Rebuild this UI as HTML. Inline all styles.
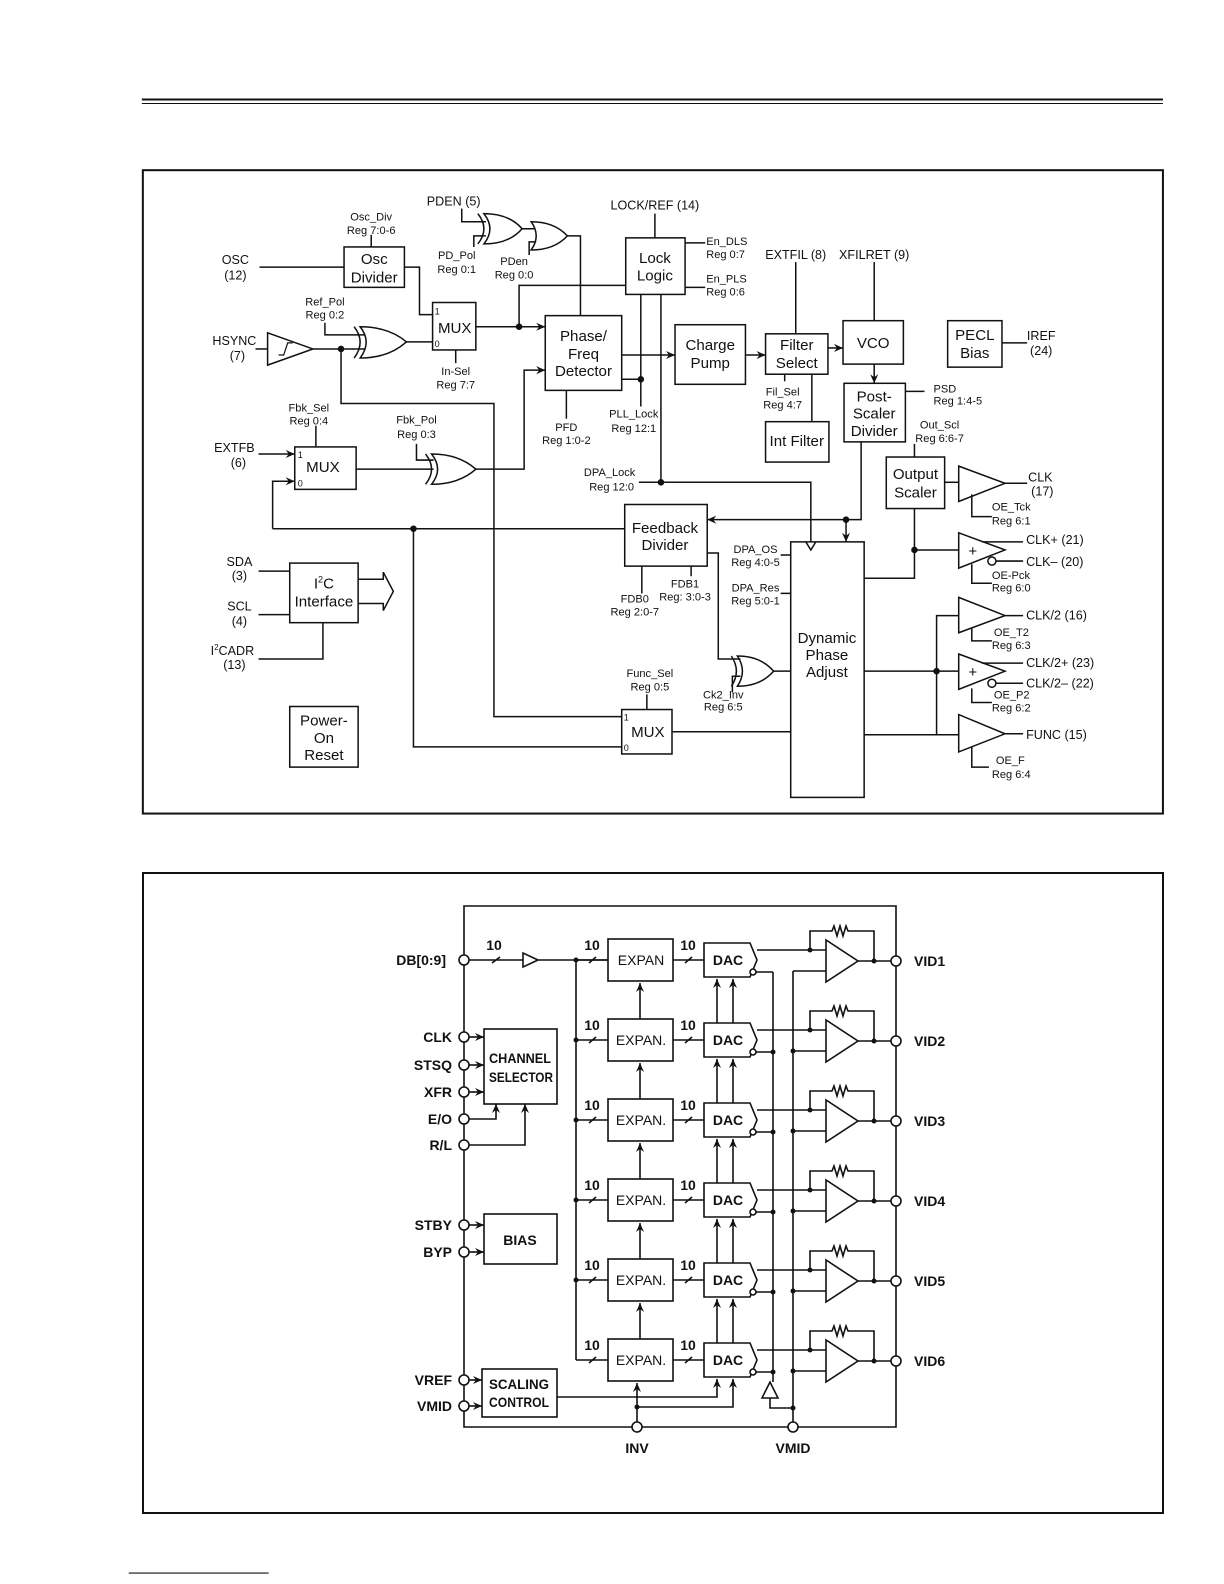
<!DOCTYPE html>
<html><head><meta charset="utf-8"><style>
html,body{margin:0;padding:0;background:#fff}
svg{display:block}
text{font-family:"Liberation Sans",sans-serif;fill:#111}
.s{font-size:11px}
.m{font-size:12.5px}
.b{font-size:15px}
.d{font-size:14px;font-weight:bold}
</style></head><body>
<svg width="1224" height="1584" viewBox="0 0 1224 1584" xmlns="http://www.w3.org/2000/svg">
<defs>
<marker id="a" markerWidth="10" markerHeight="10" refX="9" refY="5" orient="auto" markerUnits="userSpaceOnUse"><path d="M0,1 L9,5 L0,9 L3,5 Z" fill="#111"/></marker>
</defs>
<g transform="matrix(1.006,0,0,1.010,1,-0.5)" stroke="#111" stroke-width="1.5" fill="none">
<line x1="140" y1="99" x2="1155" y2="99" stroke-width="2"/>
<line x1="140" y1="103" x2="1155" y2="103" stroke-width="1"/>
<line x1="127" y1="1558" x2="266" y2="1558" stroke-width="1.2"/>
<rect x="141" y="169" width="1014" height="637" stroke-width="2"/>
<line x1="257" y1="265" x2="341" y2="265"/>
<rect x="341" y="245" width="60" height="40"/>
<line x1="368" y1="233" x2="368" y2="245"/>
<polyline points="401,265 416,265 416,312 429,312"/>
<rect x="429" y="300" width="43" height="47"/>
<line x1="452" y1="347" x2="452" y2="360"/>
<line x1="253" y1="346" x2="265" y2="346"/>
<path d="M265,330 L265,362 L310,346 Z"/>
<path d="M276,352 L281,352 L285,340 L290,340" stroke-width="1.2"/>
<line x1="310" y1="346" x2="362" y2="346"/>
<circle cx="338" cy="346" r="2.5" fill="#111"/>
<polyline points="338,346 338,400 490,400 490,710 617,710"/>
<polyline points="322,320 322,332 362,332"/>
<path d="M357,324 Q369,339 357,355 Q385,355 403,339 Q385,324 357,324 Z"/>
<path d="M351,324 Q363,339 351,355"/>
<polyline points="403,339 429,339"/>
<line x1="472" y1="324" x2="541" y2="324" marker-end="url(#a)"/>
<circle cx="515" cy="324" r="2.5" fill="#111"/>
<polyline points="515,324 515,283 621,283"/>
<rect x="541" y="313" width="76" height="74"/>
<line x1="562" y1="387" x2="562" y2="415"/>
<polyline points="458,207 458,220 482,220"/>
<polyline points="470,245 470,234 482,234"/>
<path d="M480,212 Q492,227 480,242 Q505,242 518,227 Q505,212 480,212 Z"/>
<path d="M474,212 Q486,227 474,242"/>
<polyline points="518,227 530,227"/>
<polyline points="525,253 525,240 532,240"/>
<path d="M527,220 Q537,234 527,248 Q550,248 563,234 Q550,220 527,220 Z"/>
<polyline points="563,234 576,234 576,313"/>
<line x1="650" y1="212" x2="650" y2="236"/>
<rect x="621" y="236" width="59" height="56"/>
<line x1="680" y1="241" x2="700" y2="241"/>
<line x1="680" y1="285" x2="700" y2="285"/>
<line x1="636" y1="292" x2="636" y2="403"/>
<polyline points="617,376 636,376"/>
<circle cx="636" cy="376" r="2.5" fill="#111"/>
<polyline points="656,292 656,478 805,478 805,537"/>
<circle cx="656" cy="478" r="2.5" fill="#111"/>
<line x1="634" y1="478" x2="656" y2="478"/>
<path d="M800,537 L805,545 L810,537"/>
<line x1="617" y1="352" x2="670" y2="352" marker-end="url(#a)"/>
<rect x="670" y="322" width="70" height="59"/>
<line x1="740" y1="352" x2="760" y2="352" marker-end="url(#a)"/>
<rect x="760" y="331" width="62" height="40"/>
<line x1="790" y1="260" x2="790" y2="331"/>
<line x1="868" y1="260" x2="868" y2="318"/>
<line x1="822" y1="345" x2="837" y2="345" marker-end="url(#a)"/>
<rect x="837" y="318" width="60" height="43"/>
<line x1="868" y1="361" x2="868" y2="380" marker-end="url(#a)"/>
<rect x="838" y="380" width="61" height="58"/>
<line x1="899" y1="388" x2="918" y2="388"/>
<line x1="779" y1="371" x2="779" y2="378"/>
<line x1="806" y1="371" x2="806" y2="418"/>
<rect x="760" y="418" width="63" height="40"/>
<rect x="941" y="318" width="54" height="46"/>
<line x1="995" y1="340" x2="1020" y2="340"/>
<polyline points="855,438 855,515 702,515" marker-end="url(#a)"/>
<circle cx="840" cy="515" r="2.5" fill="#111"/>
<line x1="840" y1="515" x2="840" y2="537" marker-end="url(#a)"/>
<line x1="908" y1="440" x2="908" y2="453"/>
<rect x="880" y="453" width="58" height="51"/>
<line x1="938" y1="478" x2="952" y2="478"/>
<path d="M952,462 L952,497 L998,479 Z"/>
<line x1="998" y1="479" x2="1020" y2="479"/>
<polyline points="965,490 965,512 985,512"/>
<polyline points="908,504 908,573 858,573"/>
<circle cx="908" cy="545" r="2.5" fill="#111"/>
<line x1="908" y1="545" x2="952" y2="545"/>
<path d="M952,528 L952,563 L998,545 Z"/>
<line x1="975" y1="537" x2="1016" y2="537"/>
<circle cx="985" cy="556" r="4"/>
<line x1="989" y1="556" x2="1016" y2="556"/>
<polyline points="965,559 965,578 985,578"/>
<rect x="785" y="537" width="73" height="253"/>
<line x1="775" y1="550" x2="785" y2="550"/>
<line x1="775" y1="588" x2="785" y2="588"/>
<polyline points="858,665 930,665"/>
<polyline points="952,610 930,610 930,728"/>
<circle cx="930" cy="665" r="2.5" fill="#111"/>
<path d="M952,592 L952,627 L998,610 Z"/>
<line x1="998" y1="610" x2="1016" y2="610"/>
<polyline points="965,622 965,635 985,635"/>
<line x1="930" y1="665" x2="952" y2="665"/>
<path d="M952,648 L952,683 L998,665 Z"/>
<line x1="975" y1="657" x2="1016" y2="657"/>
<circle cx="985" cy="677" r="4"/>
<line x1="989" y1="677" x2="1016" y2="677"/>
<polyline points="965,682 965,696 985,696"/>
<line x1="858" y1="728" x2="952" y2="728"/>
<path d="M952,708 L952,745 L998,727 Z"/>
<line x1="998" y1="727" x2="1016" y2="727"/>
<polyline points="965,740 965,760 982,760"/>
<line x1="256" y1="450" x2="292" y2="450" marker-end="url(#a)"/>
<rect x="292" y="443" width="61" height="42"/>
<line x1="313" y1="422" x2="313" y2="443"/>
<polyline points="270,524 270,477 292,477" marker-end="url(#a)"/>
<line x1="270" y1="524" x2="620" y2="524"/>
<circle cx="410" cy="524" r="2.5" fill="#111"/>
<polyline points="410,524 410,740 617,740"/>
<line x1="353" y1="465" x2="430" y2="465"/>
<polyline points="413,440 413,456 430,456"/>
<path d="M428,450 Q440,465 428,480 Q455,480 472,465 Q455,450 428,450 Z"/>
<path d="M422,450 Q434,465 422,480"/>
<polyline points="472,465 520,465 520,367 541,367" marker-end="url(#a)"/>
<rect x="620" y="500" width="82" height="61"/>
<line x1="637" y1="561" x2="637" y2="588"/>
<line x1="686" y1="561" x2="686" y2="571"/>
<polyline points="702,548 713,548 713,653 735,653"/>
<polyline points="727,686 727,670 735,670"/>
<path d="M732,650 Q742,665 732,680 Q755,680 768,665 Q755,650 732,650 Z"/>
<path d="M726,650 Q736,665 726,680"/>
<line x1="768" y1="665" x2="785" y2="665"/>
<rect x="617" y="703" width="50" height="44"/>
<line x1="642" y1="688" x2="642" y2="703"/>
<line x1="667" y1="725" x2="785" y2="725"/>
<line x1="256" y1="566" x2="287" y2="566"/>
<line x1="256" y1="609" x2="287" y2="609"/>
<rect x="287" y="558" width="68" height="59"/>
<polyline points="256,653 320,653 320,617"/>
<path d="M355,574 L380,574 L380,567 L390,586 L380,605 L380,598 L355,598"/>
<rect x="287" y="700" width="68" height="60"/>
</g>
<g transform="matrix(1.006,0,0,1.010,1,-0.5)">
<text class="m" x="233" y="262" text-anchor="middle">OSC</text>
<text class="m" x="233" y="277" text-anchor="middle">(12)</text>
<text class="s" x="368" y="219" text-anchor="middle">Osc_Div</text>
<text class="s" x="368" y="232" text-anchor="middle">Reg 7:0-6</text>
<text class="b" x="371" y="262" text-anchor="middle">Osc</text>
<text class="b" x="371" y="280" text-anchor="middle">Divider</text>
<text class="s" x="322" y="303" text-anchor="middle">Ref_Pol</text>
<text class="s" x="322" y="316" text-anchor="middle">Reg 0:2</text>
<text class="m" x="232" y="342" text-anchor="middle">HSYNC</text>
<text class="m" x="235" y="357" text-anchor="middle">(7)</text>
<text style="font-size:9px" x="431" y="312">1</text>
<text style="font-size:9px" x="431" y="344">0</text>
<text class="b" x="451" y="330" text-anchor="middle">MUX</text>
<text class="s" x="452" y="372" text-anchor="middle">In-Sel</text>
<text class="s" x="452" y="385" text-anchor="middle">Reg 7:7</text>
<text class="m" x="450" y="204" text-anchor="middle">PDEN (5)</text>
<text class="s" x="453" y="257" text-anchor="middle">PD_Pol</text>
<text class="s" x="453" y="271" text-anchor="middle">Reg 0:1</text>
<text class="s" x="510" y="263" text-anchor="middle">PDen</text>
<text class="s" x="510" y="276" text-anchor="middle">Reg 0:0</text>
<text class="m" x="650" y="208" text-anchor="middle">LOCK/REF (14)</text>
<text class="b" x="650" y="261" text-anchor="middle">Lock</text>
<text class="b" x="650" y="278" text-anchor="middle">Logic</text>
<text class="s" x="701" y="243">En_DLS</text>
<text class="s" x="701" y="256">Reg 0:7</text>
<text class="s" x="701" y="280">En_PLS</text>
<text class="s" x="701" y="293">Reg 0:6</text>
<text class="b" x="579" y="338" text-anchor="middle">Phase/</text>
<text class="b" x="579" y="356" text-anchor="middle">Freq</text>
<text class="b" x="579" y="373" text-anchor="middle">Detector</text>
<text class="s" x="562" y="427" text-anchor="middle">PFD</text>
<text class="s" x="562" y="440" text-anchor="middle">Reg 1:0-2</text>
<text class="s" x="629" y="414" text-anchor="middle">PLL_Lock</text>
<text class="s" x="629" y="428" text-anchor="middle">Reg 12:1</text>
<text class="s" x="605" y="472" text-anchor="middle">DPA_Lock</text>
<text class="s" x="607" y="486" text-anchor="middle">Reg 12:0</text>
<text class="b" x="705" y="347" text-anchor="middle">Charge</text>
<text class="b" x="705" y="365" text-anchor="middle">Pump</text>
<text class="m" x="790" y="257" text-anchor="middle">EXTFIL (8)</text>
<text class="m" x="868" y="257" text-anchor="middle">XFILRET (9)</text>
<text class="b" x="791" y="347" text-anchor="middle">Filter</text>
<text class="b" x="791" y="365" text-anchor="middle">Select</text>
<text class="b" x="867" y="345" text-anchor="middle">VCO</text>
<text class="s" x="777" y="392" text-anchor="middle">Fil_Sel</text>
<text class="s" x="777" y="405" text-anchor="middle">Reg 4:7</text>
<text class="b" x="791" y="442" text-anchor="middle">Int Filter</text>
<text class="b" x="968" y="337" text-anchor="middle">PECL</text>
<text class="b" x="968" y="355" text-anchor="middle">Bias</text>
<text class="m" x="1034" y="337" text-anchor="middle">IREF</text>
<text class="m" x="1034" y="352" text-anchor="middle">(24)</text>
<text class="b" x="868" y="398" text-anchor="middle">Post-</text>
<text class="b" x="868" y="415" text-anchor="middle">Scaler</text>
<text class="b" x="868" y="432" text-anchor="middle">Divider</text>
<text class="s" x="927" y="389">PSD</text>
<text class="s" x="927" y="401">Reg 1:4-5</text>
<text class="s" x="933" y="425" text-anchor="middle">Out_Scl</text>
<text class="s" x="933" y="438" text-anchor="middle">Reg 6:6-7</text>
<text class="b" x="909" y="475" text-anchor="middle">Output</text>
<text class="b" x="909" y="493" text-anchor="middle">Scaler</text>
<text class="m" x="1021" y="477">CLK</text>
<text class="m" x="1024" y="491">(17)</text>
<text class="s" x="985" y="506">OE_Tck</text>
<text class="s" x="985" y="520">Reg 6:1</text>
<text class="b" x="966" y="551" text-anchor="middle">+</text>
<text class="m" x="1019" y="539">CLK+ (21)</text>
<text class="m" x="1019" y="561">CLK– (20)</text>
<text class="s" x="985" y="574">OE-Pck</text>
<text class="s" x="985" y="586">Reg 6:0</text>
<text class="m" x="1019" y="614">CLK/2 (16)</text>
<text class="s" x="987" y="630">OE_T2</text>
<text class="s" x="985" y="643">Reg 6:3</text>
<text class="b" x="966" y="671" text-anchor="middle">+</text>
<text class="m" x="1019" y="661">CLK/2+ (23)</text>
<text class="m" x="1019" y="681">CLK/2– (22)</text>
<text class="s" x="987" y="692">OE_P2</text>
<text class="s" x="985" y="705">Reg 6:2</text>
<text class="m" x="1019" y="732">FUNC (15)</text>
<text class="s" x="989" y="757">OE_F</text>
<text class="s" x="985" y="771">Reg 6:4</text>
<text class="s" x="750" y="548" text-anchor="middle">DPA_OS</text>
<text class="s" x="750" y="561" text-anchor="middle">Reg 4:0-5</text>
<text class="s" x="750" y="586" text-anchor="middle">DPA_Res</text>
<text class="s" x="750" y="599" text-anchor="middle">Reg 5:0-1</text>
<text class="b" x="821" y="637" text-anchor="middle">Dynamic</text>
<text class="b" x="821" y="654" text-anchor="middle">Phase</text>
<text class="b" x="821" y="671" text-anchor="middle">Adjust</text>
<text class="m" x="232" y="448" text-anchor="middle">EXTFB</text>
<text class="m" x="236" y="463" text-anchor="middle">(6)</text>
<text class="s" x="306" y="408" text-anchor="middle">Fbk_Sel</text>
<text class="s" x="306" y="421" text-anchor="middle">Reg 0:4</text>
<text style="font-size:9px" x="295" y="454">1</text>
<text style="font-size:9px" x="295" y="482">0</text>
<text class="b" x="320" y="468" text-anchor="middle">MUX</text>
<text class="s" x="413" y="420" text-anchor="middle">Fbk_Pol</text>
<text class="s" x="413" y="434" text-anchor="middle">Reg 0:3</text>
<text class="b" x="660" y="528" text-anchor="middle">Feedback</text>
<text class="b" x="660" y="545" text-anchor="middle">Divider</text>
<text class="s" x="630" y="597" text-anchor="middle">FDB0</text>
<text class="s" x="630" y="610" text-anchor="middle">Reg 2:0-7</text>
<text class="s" x="680" y="582" text-anchor="middle">FDB1</text>
<text class="s" x="680" y="595" text-anchor="middle">Reg: 3:0-3</text>
<text class="s" x="718" y="692" text-anchor="middle">Ck2_Inv</text>
<text class="s" x="718" y="704" text-anchor="middle">Reg 6:5</text>
<text class="s" x="645" y="671" text-anchor="middle">Func_Sel</text>
<text class="s" x="645" y="684" text-anchor="middle">Reg 0:5</text>
<text style="font-size:9px" x="619" y="714">1</text>
<text style="font-size:9px" x="619" y="744">0</text>
<text class="b" x="643" y="730" text-anchor="middle">MUX</text>
<text class="m" x="237" y="561" text-anchor="middle">SDA</text>
<text class="m" x="237" y="575" text-anchor="middle">(3)</text>
<text class="m" x="237" y="605" text-anchor="middle">SCL</text>
<text class="m" x="237" y="620" text-anchor="middle">(4)</text>
<text class="m" x="230" y="649" text-anchor="middle">I<tspan style="font-size:8px" dy="-5">2</tspan><tspan dy="5">CADR</tspan></text>
<text class="m" x="232" y="663" text-anchor="middle">(13)</text>
<text class="b" x="321" y="583" text-anchor="middle">I<tspan style="font-size:9px" dy="-6">2</tspan><tspan dy="6">C</tspan></text>
<text class="b" x="321" y="601" text-anchor="middle">Interface</text>
<text class="b" x="321" y="719" text-anchor="middle">Power-</text>
<text class="b" x="321" y="736" text-anchor="middle">On</text>
<text class="b" x="321" y="753" text-anchor="middle">Reset</text>
</g>

<g stroke="#111" stroke-width="1.6" fill="none">
<rect x="143" y="873" width="1020" height="640" stroke-width="2"/>
<polyline points="464,955 464,906 896,906 896,1427 464,1427 464,1411"/>
<line x1="464" y1="965" x2="464" y2="1032"/>
<line x1="464" y1="1042" x2="464" y2="1060"/>
<line x1="464" y1="1070" x2="464" y2="1087"/>
<line x1="464" y1="1097" x2="464" y2="1114"/>
<line x1="464" y1="1124" x2="464" y2="1140"/>
<line x1="464" y1="1150" x2="464" y2="1220"/>
<line x1="464" y1="1230" x2="464" y2="1247"/>
<line x1="464" y1="1257" x2="464" y2="1375"/>
<line x1="464" y1="1385" x2="464" y2="1401"/>
<line x1="469" y1="960" x2="523" y2="960"/>
<line x1="492" y1="963" x2="500" y2="957"/>
<path d="M523,953 L523,967 L538,960 Z"/>
<line x1="538" y1="960" x2="608" y2="960"/>
<line x1="576" y1="960" x2="576" y2="1360"/>
</g>
<g stroke="#111" stroke-width="1.6" fill="none">
<g transform="translate(0,0)"><line x1="576" y1="960" x2="608" y2="960"/><line x1="589" y1="963" x2="596" y2="957"/><rect x="608" y="939" width="65" height="42"/><line x1="673" y1="960" x2="704" y2="960"/><line x1="685" y1="963" x2="692" y2="957"/><path d="M704,943 L750,943 L757,960 L750,977 L704,977 Z"/><circle cx="753" cy="972" r="3" fill="#fff"/><line x1="757" y1="950" x2="826" y2="950"/><line x1="756" y1="972" x2="773" y2="972"/><line x1="793" y1="971" x2="826" y2="971"/><path d="M826,940 L826,982 L858,961 Z"/><line x1="858" y1="961" x2="891" y2="961"/><polyline points="810,950 810,931 832,931 834,926 837,936 840,926 843,936 846,926 848,931 874,931 874,961"/><circle cx="896" cy="961" r="5" fill="#fff"/></g>
<g transform="translate(0,80)"><line x1="576" y1="960" x2="608" y2="960"/><line x1="589" y1="963" x2="596" y2="957"/><rect x="608" y="939" width="65" height="42"/><line x1="673" y1="960" x2="704" y2="960"/><line x1="685" y1="963" x2="692" y2="957"/><path d="M704,943 L750,943 L757,960 L750,977 L704,977 Z"/><circle cx="753" cy="972" r="3" fill="#fff"/><line x1="757" y1="950" x2="826" y2="950"/><line x1="756" y1="972" x2="773" y2="972"/><line x1="793" y1="971" x2="826" y2="971"/><path d="M826,940 L826,982 L858,961 Z"/><line x1="858" y1="961" x2="891" y2="961"/><polyline points="810,950 810,931 832,931 834,926 837,936 840,926 843,936 846,926 848,931 874,931 874,961"/><circle cx="896" cy="961" r="5" fill="#fff"/></g>
<g transform="translate(0,160)"><line x1="576" y1="960" x2="608" y2="960"/><line x1="589" y1="963" x2="596" y2="957"/><rect x="608" y="939" width="65" height="42"/><line x1="673" y1="960" x2="704" y2="960"/><line x1="685" y1="963" x2="692" y2="957"/><path d="M704,943 L750,943 L757,960 L750,977 L704,977 Z"/><circle cx="753" cy="972" r="3" fill="#fff"/><line x1="757" y1="950" x2="826" y2="950"/><line x1="756" y1="972" x2="773" y2="972"/><line x1="793" y1="971" x2="826" y2="971"/><path d="M826,940 L826,982 L858,961 Z"/><line x1="858" y1="961" x2="891" y2="961"/><polyline points="810,950 810,931 832,931 834,926 837,936 840,926 843,936 846,926 848,931 874,931 874,961"/><circle cx="896" cy="961" r="5" fill="#fff"/></g>
<g transform="translate(0,240)"><line x1="576" y1="960" x2="608" y2="960"/><line x1="589" y1="963" x2="596" y2="957"/><rect x="608" y="939" width="65" height="42"/><line x1="673" y1="960" x2="704" y2="960"/><line x1="685" y1="963" x2="692" y2="957"/><path d="M704,943 L750,943 L757,960 L750,977 L704,977 Z"/><circle cx="753" cy="972" r="3" fill="#fff"/><line x1="757" y1="950" x2="826" y2="950"/><line x1="756" y1="972" x2="773" y2="972"/><line x1="793" y1="971" x2="826" y2="971"/><path d="M826,940 L826,982 L858,961 Z"/><line x1="858" y1="961" x2="891" y2="961"/><polyline points="810,950 810,931 832,931 834,926 837,936 840,926 843,936 846,926 848,931 874,931 874,961"/><circle cx="896" cy="961" r="5" fill="#fff"/></g>
<g transform="translate(0,320)"><line x1="576" y1="960" x2="608" y2="960"/><line x1="589" y1="963" x2="596" y2="957"/><rect x="608" y="939" width="65" height="42"/><line x1="673" y1="960" x2="704" y2="960"/><line x1="685" y1="963" x2="692" y2="957"/><path d="M704,943 L750,943 L757,960 L750,977 L704,977 Z"/><circle cx="753" cy="972" r="3" fill="#fff"/><line x1="757" y1="950" x2="826" y2="950"/><line x1="756" y1="972" x2="773" y2="972"/><line x1="793" y1="971" x2="826" y2="971"/><path d="M826,940 L826,982 L858,961 Z"/><line x1="858" y1="961" x2="891" y2="961"/><polyline points="810,950 810,931 832,931 834,926 837,936 840,926 843,936 846,926 848,931 874,931 874,961"/><circle cx="896" cy="961" r="5" fill="#fff"/></g>
<g transform="translate(0,400)"><line x1="576" y1="960" x2="608" y2="960"/><line x1="589" y1="963" x2="596" y2="957"/><rect x="608" y="939" width="65" height="42"/><line x1="673" y1="960" x2="704" y2="960"/><line x1="685" y1="963" x2="692" y2="957"/><path d="M704,943 L750,943 L757,960 L750,977 L704,977 Z"/><circle cx="753" cy="972" r="3" fill="#fff"/><line x1="757" y1="950" x2="826" y2="950"/><line x1="756" y1="972" x2="773" y2="972"/><line x1="793" y1="971" x2="826" y2="971"/><path d="M826,940 L826,982 L858,961 Z"/><line x1="858" y1="961" x2="891" y2="961"/><polyline points="810,950 810,931 832,931 834,926 837,936 840,926 843,936 846,926 848,931 874,931 874,961"/><circle cx="896" cy="961" r="5" fill="#fff"/></g>
<line x1="640" y1="1019" x2="640" y2="983" marker-end="url(#a)"/>
<line x1="640" y1="1099" x2="640" y2="1063" marker-end="url(#a)"/>
<line x1="640" y1="1179" x2="640" y2="1143" marker-end="url(#a)"/>
<line x1="640" y1="1259" x2="640" y2="1223" marker-end="url(#a)"/>
<line x1="640" y1="1339" x2="640" y2="1303" marker-end="url(#a)"/>
<line x1="717" y1="1023" x2="717" y2="979" marker-end="url(#a)"/>
<line x1="733" y1="1023" x2="733" y2="979" marker-end="url(#a)"/>
<line x1="717" y1="1103" x2="717" y2="1059" marker-end="url(#a)"/>
<line x1="733" y1="1103" x2="733" y2="1059" marker-end="url(#a)"/>
<line x1="717" y1="1183" x2="717" y2="1139" marker-end="url(#a)"/>
<line x1="733" y1="1183" x2="733" y2="1139" marker-end="url(#a)"/>
<line x1="717" y1="1263" x2="717" y2="1219" marker-end="url(#a)"/>
<line x1="733" y1="1263" x2="733" y2="1219" marker-end="url(#a)"/>
<line x1="717" y1="1343" x2="717" y2="1299" marker-end="url(#a)"/>
<line x1="733" y1="1343" x2="733" y2="1299" marker-end="url(#a)"/>
<line x1="773" y1="972" x2="773" y2="1382"/>
<line x1="793" y1="971" x2="793" y2="1422"/>
<path d="M762,1398 L778,1398 L770,1382 Z"/>
<polyline points="770,1398 770,1408 793,1408"/>
<circle cx="793" cy="1427" r="5" fill="#fff"/>
<polyline points="557,1397 717,1397 717,1379" marker-end="url(#a)"/>
<line x1="637" y1="1422" x2="637" y2="1383" marker-end="url(#a)"/>
<polyline points="637,1407 733,1407 733,1379" marker-end="url(#a)"/>
<circle cx="637" cy="1427" r="5" fill="#fff"/>
<circle cx="464" cy="960" r="5" fill="#fff"/>
<circle cx="464" cy="1037" r="5" fill="#fff"/>
<circle cx="464" cy="1065" r="5" fill="#fff"/>
<circle cx="464" cy="1092" r="5" fill="#fff"/>
<circle cx="464" cy="1119" r="5" fill="#fff"/>
<circle cx="464" cy="1145" r="5" fill="#fff"/>
<circle cx="464" cy="1225" r="5" fill="#fff"/>
<circle cx="464" cy="1252" r="5" fill="#fff"/>
<circle cx="464" cy="1380" r="5" fill="#fff"/>
<circle cx="464" cy="1406" r="5" fill="#fff"/>
<rect x="484" y="1029" width="73" height="75"/>
<line x1="469" y1="1037" x2="484" y2="1037" marker-end="url(#a)"/>
<line x1="469" y1="1065" x2="484" y2="1065" marker-end="url(#a)"/>
<line x1="469" y1="1092" x2="484" y2="1092" marker-end="url(#a)"/>
<polyline points="469,1119 496,1119 496,1104" marker-end="url(#a)"/>
<polyline points="469,1145 525,1145 525,1104" marker-end="url(#a)"/>
<rect x="484" y="1214" width="73" height="50"/>
<line x1="469" y1="1225" x2="484" y2="1225" marker-end="url(#a)"/>
<line x1="469" y1="1252" x2="484" y2="1252" marker-end="url(#a)"/>
<rect x="482" y="1369" width="75" height="48"/>
<line x1="469" y1="1380" x2="482" y2="1380" marker-end="url(#a)"/>
<line x1="469" y1="1406" x2="482" y2="1406" marker-end="url(#a)"/>
</g>
<g fill="#111">
<circle cx="576" cy="960" r="2.5"/><circle cx="576" cy="1040" r="2.5"/><circle cx="576" cy="1120" r="2.5"/><circle cx="576" cy="1200" r="2.5"/><circle cx="576" cy="1280" r="2.5"/>
<circle cx="810" cy="950" r="2.5"/><circle cx="810" cy="1030" r="2.5"/><circle cx="810" cy="1110" r="2.5"/><circle cx="810" cy="1190" r="2.5"/><circle cx="810" cy="1270" r="2.5"/><circle cx="810" cy="1350" r="2.5"/>
<circle cx="874" cy="961" r="2.5"/><circle cx="874" cy="1041" r="2.5"/><circle cx="874" cy="1121" r="2.5"/><circle cx="874" cy="1201" r="2.5"/><circle cx="874" cy="1281" r="2.5"/><circle cx="874" cy="1361" r="2.5"/>
<circle cx="773" cy="1052" r="2.5"/><circle cx="773" cy="1132" r="2.5"/><circle cx="773" cy="1212" r="2.5"/><circle cx="773" cy="1292" r="2.5"/><circle cx="773" cy="1372" r="2.5"/>
<circle cx="793" cy="1051" r="2.5"/><circle cx="793" cy="1131" r="2.5"/><circle cx="793" cy="1211" r="2.5"/><circle cx="793" cy="1291" r="2.5"/><circle cx="793" cy="1371" r="2.5"/><circle cx="793" cy="1408" r="2.5"/>
<circle cx="637" cy="1407" r="2.5"/>
</g>
<text class="d" x="494" y="950" text-anchor="middle">10</text>
<text class="d" x="592" y="950" text-anchor="middle">10</text><text class="d" x="688" y="950" text-anchor="middle">10</text>
<text class="d" x="592" y="1030" text-anchor="middle">10</text><text class="d" x="688" y="1030" text-anchor="middle">10</text>
<text class="d" x="592" y="1110" text-anchor="middle">10</text><text class="d" x="688" y="1110" text-anchor="middle">10</text>
<text class="d" x="592" y="1190" text-anchor="middle">10</text><text class="d" x="688" y="1190" text-anchor="middle">10</text>
<text class="d" x="592" y="1270" text-anchor="middle">10</text><text class="d" x="688" y="1270" text-anchor="middle">10</text>
<text class="d" x="592" y="1350" text-anchor="middle">10</text><text class="d" x="688" y="1350" text-anchor="middle">10</text>
<text x="641" y="965" text-anchor="middle" style="font-size:14px">EXPAN</text>
<text x="641" y="1045" text-anchor="middle" style="font-size:14px">EXPAN.</text>
<text x="641" y="1125" text-anchor="middle" style="font-size:14px">EXPAN.</text>
<text x="641" y="1205" text-anchor="middle" style="font-size:14px">EXPAN.</text>
<text x="641" y="1285" text-anchor="middle" style="font-size:14px">EXPAN.</text>
<text x="641" y="1365" text-anchor="middle" style="font-size:14px">EXPAN.</text>
<text class="d" x="728" y="965" text-anchor="middle">DAC</text>
<text class="d" x="728" y="1045" text-anchor="middle">DAC</text>
<text class="d" x="728" y="1125" text-anchor="middle">DAC</text>
<text class="d" x="728" y="1205" text-anchor="middle">DAC</text>
<text class="d" x="728" y="1285" text-anchor="middle">DAC</text>
<text class="d" x="728" y="1365" text-anchor="middle">DAC</text>
<text class="d" x="446" y="965" text-anchor="end">DB[0:9]</text>
<text class="d" x="452" y="1042" text-anchor="end">CLK</text>
<text class="d" x="452" y="1070" text-anchor="end">STSQ</text>
<text class="d" x="452" y="1097" text-anchor="end">XFR</text>
<text class="d" x="452" y="1124" text-anchor="end">E/O</text>
<text class="d" x="452" y="1150" text-anchor="end">R/L</text>
<text class="d" x="452" y="1230" text-anchor="end">STBY</text>
<text class="d" x="452" y="1257" text-anchor="end">BYP</text>
<text class="d" x="452" y="1385" text-anchor="end">VREF</text>
<text class="d" x="452" y="1411" text-anchor="end">VMID</text>
<text class="d" x="489" y="1063" textLength="62" lengthAdjust="spacingAndGlyphs">CHANNEL</text>
<text class="d" x="489" y="1082" textLength="64" lengthAdjust="spacingAndGlyphs">SELECTOR</text>
<text class="d" x="520" y="1245" text-anchor="middle">BIAS</text>
<text class="d" x="489" y="1389" textLength="60" lengthAdjust="spacingAndGlyphs">SCALING</text>
<text class="d" x="489" y="1407" textLength="60" lengthAdjust="spacingAndGlyphs">CONTROL</text>
<text class="d" x="637" y="1453" text-anchor="middle">INV</text>
<text class="d" x="793" y="1453" text-anchor="middle">VMID</text>
<text class="d" x="914" y="966">VID1</text>
<text class="d" x="914" y="1046">VID2</text>
<text class="d" x="914" y="1126">VID3</text>
<text class="d" x="914" y="1206">VID4</text>
<text class="d" x="914" y="1286">VID5</text>
<text class="d" x="914" y="1366">VID6</text>
</svg>
</body></html>
